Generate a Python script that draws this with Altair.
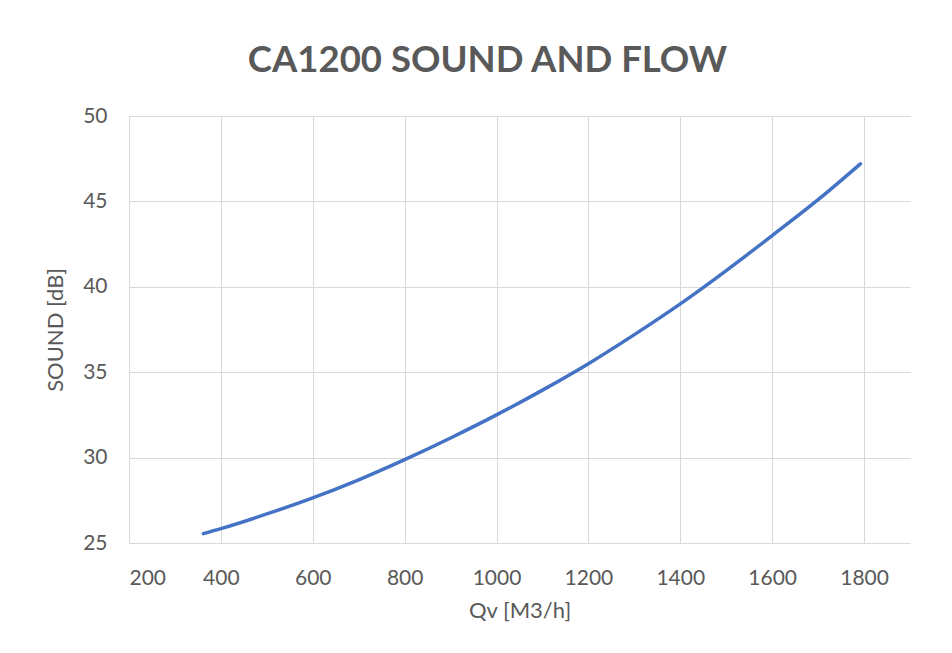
import altair as alt
import pandas as pd

# Airflow (Qv, m3/h) and sound level (dB)
qv = [362, 400, 500, 600, 700, 800, 900, 1000, 1100, 1200, 1300, 1400, 1500, 1600, 1700, 1792]
sound = [25.55, 25.84, 26.70, 27.64, 28.70, 29.88, 31.15, 32.50, 33.95, 35.50, 37.20, 39.00, 40.95, 43.00, 45.10, 47.20]

x_ticks = [200, 400, 600, 800, 1000, 1200, 1400, 1600, 1800]
y_ticks = [25, 30, 35, 40, 45, 50]

df = pd.DataFrame({"Qv": qv, "Sound": sound})

FONT = "Lato"
TXT = "#595959"
GRID = "#D9D9D9"

chart = (
    alt.Chart(df)
    .mark_line(color="#4472C4", strokeWidth=3.5, interpolate="monotone", strokeCap="round")
    .encode(
        x=alt.X(
            "Qv:Q",
            scale=alt.Scale(domain=[200, 1900], nice=False, zero=False),
            axis=alt.Axis(
                title="Qv [M3/h]",
                values=x_ticks,
                format="d",
                ticks=False,
                labelPadding=24,
                titlePadding=12,
                domainColor=GRID,
                gridColor=GRID,
                labelFontSize=21,
                titleFontSize=22,
                titleFontWeight="normal",
                labelColor=TXT,
                titleColor=TXT,
                labelFont=FONT,
                titleFont=FONT,
            ),
        ),
        y=alt.Y(
            "Sound:Q",
            scale=alt.Scale(domain=[25, 50], nice=False, zero=False),
            axis=alt.Axis(
                title="SOUND [dB]",
                values=y_ticks,
                ticks=False,
                labelPadding=22,
                titlePadding=15,
                domain=False,
                gridColor=GRID,
                labelFontSize=21,
                titleFontSize=22,
                titleFontWeight="normal",
                labelColor=TXT,
                titleColor=TXT,
                labelFont=FONT,
                titleFont=FONT,
            ),
        ),
    )
    .properties(
        width=781,
        height=427,
        autosize="none",
        padding={"left": 121, "top": 108, "right": 20, "bottom": 100},
        title=alt.TitleParams(
            "CA1200 SOUND AND FLOW",
            font=FONT,
            fontSize=36.5,
            fontWeight="bold",
            color=TXT,
            anchor="middle",
            dx=-32,
            offset=26,
        ),
    )
    .configure_view(stroke=None)
)

chart.save("out.html", embed_options={"renderer": "svg", "actions": False})
